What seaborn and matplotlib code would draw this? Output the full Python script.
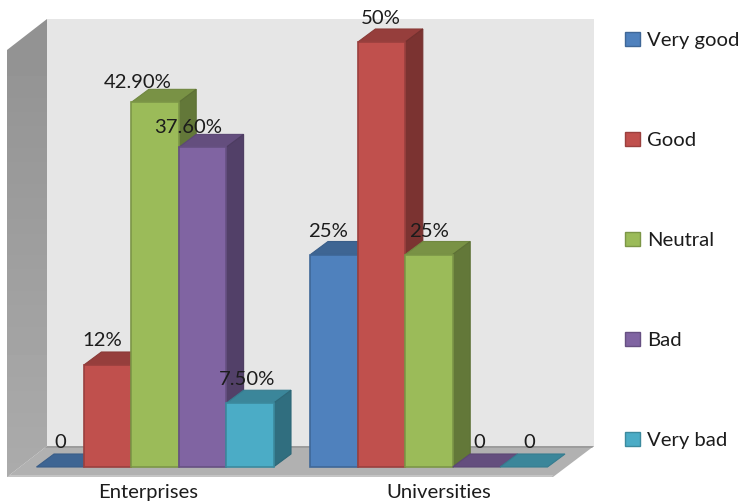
import numpy as np
import pandas as pd
import matplotlib
matplotlib.use("Agg")
import matplotlib.pyplot as plt
from matplotlib.patches import Polygon
from matplotlib.transforms import Affine2D
from matplotlib.colors import to_rgb
import seaborn as sns

# ---------- data ----------
groups = ["Enterprises", "Universities"]
ratings = ["Very good", "Good", "Neutral", "Bad", "Very bad"]
enterprises = [0, 12, 42.9, 37.6, 7.5]
universities = [25, 50, 25, 0, 0]
enterprise_labels = ["0", "12%", "42.90%", "37.60%", "7.50%"]
university_labels = ["25%", "50%", "25%", "0", "0"]
colors = ["#4f81bd", "#c0504d", "#9bbb59", "#8064a2", "#4bacc6"]

# ---------- style / layout (pixels) ----------
W, H = 739, 503
X_FIRST, X_SECOND = 155, 429          # group centres
Y_BASE, Y_AXES_BOTTOM = 467, 477
PX_PER_UNIT = 8.5
DX, DY = 17.5, -13                    # extrusion of the 3D look
FONT = "Lato"
FS = 14.6

sns.set_theme(style="white")
plt.rcParams["font.family"] = [FONT, "DejaVu Sans"]

df = pd.DataFrame({
    "group": np.repeat(groups, len(ratings)),
    "rating": ratings * len(groups),
    "value": enterprises + universities,
})

fig = plt.figure(figsize=(W / 100, H / 100), dpi=100)
ax = fig.add_axes([0, (H - Y_AXES_BOTTOM) / H, 1, Y_AXES_BOTTOM / H])
ax.patch.set_visible(False)

sns.barplot(data=df, x="group", y="value", hue="rating", order=groups,
            hue_order=ratings, palette=colors, width=0.865, gap=0,
            saturation=1, linewidth=0, ax=ax, legend=True)

unit = X_SECOND - X_FIRST
ax.set_xlim(-X_FIRST / unit, (W - X_FIRST) / unit)
ax.set_ylim(-(Y_AXES_BOTTOM - Y_BASE) / PX_PER_UNIT, Y_BASE / PX_PER_UNIT)

px = Affine2D().scale(1, -1).translate(0, H)   # top-left pixel coordinates


def shade(c, f):
    return tuple(v * f for v in to_rgb(c))


def poly(points, fc, ec="none", lw=0, z=1):
    p = Polygon(points, closed=True, facecolor=fc, edgecolor=ec, linewidth=lw,
                transform=px, zorder=z, clip_on=False)
    ax.add_patch(p)
    return p


# back wall, floor, side wall
poly([(47, 19), (594, 19), (594, 446), (47, 446)], "#e6e6e6", z=0.1)
poly([(7, 477), (47, 446), (594, 446), (553, 477)], "#b1b1b1", z=0.2)
poly([(47, 446), (594, 446), (592, 448), (45, 448)], "#9c9c9c", z=0.25)
poly([(7, 475), (553.5, 475), (552, 477), (7, 477)], "#c4c4c4", z=0.25)
wall = poly([(7, 50), (47, 19), (47, 446), (7, 477)], "none", z=0.3)
grad = np.linspace(0.57, 0.67, 64)[:, None]
im = ax.imshow(grad, cmap="gray", vmin=0, vmax=1, aspect="auto", zorder=0.3,
               extent=(7, 47, 477, 19), transform=px, clip_on=True)
im.set_clip_path(wall)
ax.set_xlim(-X_FIRST / unit, (W - X_FIRST) / unit)
ax.set_ylim(-(Y_AXES_BOTTOM - Y_BASE) / PX_PER_UNIT, Y_BASE / PX_PER_UNIT)

# extrude each bar through its own position, left to right
fig.canvas.draw()
inv = px.inverted()
bars = []
for h, cont in enumerate(ax.containers):
    for g, bar in enumerate(cont):
        bars.append((g, h, bar))
bars.sort(key=lambda t: (t[0], t[1]))

label_text = enterprise_labels + university_labels
label_dx = [0, -5, -17, -14, -3, -6, -1, 0, 3, 5]
label_dy = [25, 24, 20, 20, 24, 23, 24, 23, 25, 25]
for i, (g, h, bar) in enumerate(bars):
    bb = bar.get_window_extent()
    (x0, y1), (x1, y0) = inv.transform([(bb.x0, bb.y0), (bb.x1, bb.y1)])
    c = colors[h]
    z = 2 + i * 0.1
    poly([(x0, y0), (x1, y0), (x1 + DX, y0 + DY), (x0 + DX, y0 + DY)],
         shade(c, 0.78), shade(c, 0.72), 0.8, z)
    if bar.get_height() > 0:
        poly([(x1, y0), (x1 + DX, y0 + DY), (x1 + DX, y1 + DY), (x1, y1)],
             shade(c, 0.64), shade(c, 0.6), 0.8, z)
        bar.set_edgecolor(shade(c, 0.8))
        bar.set_linewidth(1.2)
        bar.set_zorder(z + 0.01)
    else:
        bar.set_visible(False)
    ax.annotate(label_text[i], xy=(bar.get_x() + bar.get_width() / 2, bar.get_height()),
                xytext=(label_dx[i] * 0.72, label_dy[i] * 0.72), textcoords="offset points",
                ha="center", va="center", fontsize=FS, color="#1c1c1c", zorder=10,
                annotation_clip=False)

# axis
sns.despine(ax=ax, left=True, bottom=True)
ax.set_xlabel("")
ax.set_ylabel("")
ax.set_yticks([])
ax.set_xticks([(148 - X_FIRST) / unit, (439 - X_FIRST) / unit], groups)
ax.tick_params(axis="x", length=0, pad=5, labelsize=FS, labelcolor="#1c1c1c")

# legend
sns.move_legend(ax, loc="upper left", bbox_to_anchor=(617 / W, 1 - 24 / Y_AXES_BOTTOM),
                frameon=False, title=None, fontsize=FS, labelspacing=4.095,
                handlelength=0.74, handleheight=0.64, handletextpad=0.35,
                borderpad=0.4, borderaxespad=0)
leg = ax.get_legend()
for patch, c in zip(leg.get_patches(), colors):
    patch.set_facecolor(c)
    patch.set_edgecolor(shade(c, 0.8))
    patch.set_linewidth(1)
for t in leg.get_texts():
    t.set_color("#1c1c1c")

fig.savefig("out.png", dpi=100)
